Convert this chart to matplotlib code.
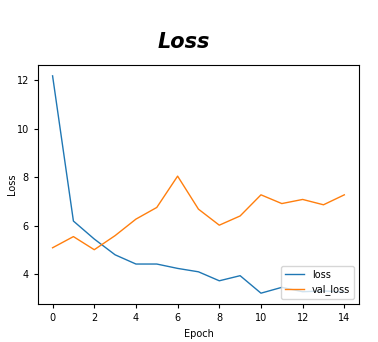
import matplotlib

matplotlib.use("Agg")
import matplotlib.pyplot as plt

# === Data ===
epochs = list(range(15))
loss = [12.18, 6.2, 5.46, 4.81, 4.43, 4.43, 4.25, 4.11, 3.74, 3.95, 3.23, 3.47, 3.29, 3.32, 3.28]
val_loss = [5.10, 5.56, 5.02, 5.60, 6.28, 6.76, 8.05, 6.69, 6.03, 6.41, 7.28, 6.92, 7.09, 6.87, 7.28]

plt.rcParams["font.size"] = 7

fig = plt.figure(figsize=(3.78, 3.42), dpi=100)
ax = fig.add_axes([0.1005, 0.111, 0.849, 0.699])

ax.plot(epochs, loss, color="#1f77b4", linewidth=1.0, label="loss")
ax.plot(epochs, val_loss, color="#ff7f0e", linewidth=1.0, label="val_loss")

ax.set_xticks(range(0, 15, 2))
ax.set_xlabel("Epoch", fontsize=7)
ax.set_ylabel("Loss", fontsize=7, labelpad=0)
ax.tick_params(labelsize=7, length=3)
ax.legend(loc="lower right", fontsize=7)

fig.suptitle("Loss", x=0.485, y=0.905, fontsize=15, fontweight="bold", fontstyle="italic")

fig.savefig("out.png", dpi=100)
